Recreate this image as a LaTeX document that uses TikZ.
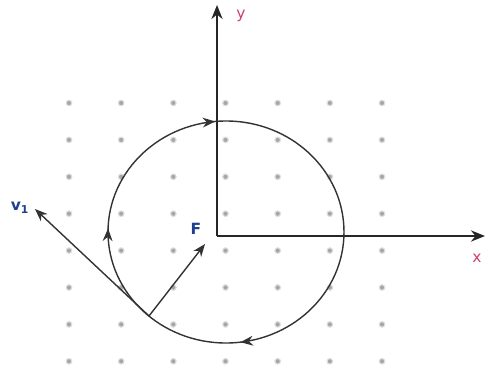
\documentclass[tikz,border=0pt]{standalone}
\usepackage{fontspec}
\setmainfont{DejaVu Sans}
\usepackage{xcolor}
\usetikzlibrary{arrows.meta, decorations.markings}

\definecolor{vecblue}{HTML}{1F3F8F}
\definecolor{axisred}{HTML}{D0406E}

\begin{document}
\begin{tikzpicture}[
  x=0.025cm, y=0.025cm,
  >={Stealth[length=9pt, width=7pt]},
  every node/.style={font=\bfseries\fontsize{11}{13}\selectfont},
  dotnode/.style={circle, fill=gray!70, draw=gray!25, line width=0.8pt, inner sep=0pt, minimum size=4pt},
  axisline/.style={-{Stealth[length=10pt, width=8pt]}, line width=1.3pt, draw=black!85},
  vecline/.style={->, line width=1pt, draw=black!80},
  orbit/.style={line width=1pt, draw=black!80, postaction={decorate},
    decoration={markings,
      mark=at position 0.23 with {\arrow{Stealth[length=9pt, width=7pt]}},
      mark=at position 0.505 with {\arrow{Stealth[length=9pt, width=7pt]}},
      mark=at position 0.735 with {\arrow{Stealth[length=9pt, width=7pt]}}}}
]
\useasboundingbox (0,0) rectangle (485,371);

% grid of field dots
\foreach \i in {0,...,6}
  \foreach \j in {0,...,7}
    \node[dotnode] (d\i\j) at ({69+52.17*\i},{268-36.9*\j}) {};

% axes
\coordinate (O) at (217,135);
\coordinate (xtip) at (485,135);
\coordinate (ytip) at (217,366);
\draw[axisline] (O) -- (xtip);
\draw[axisline] (O) -- (ytip);
\node[axisred, font=\fontsize{11}{13}\selectfont] (ylab) at (241,355) {y};
\node[axisred, font=\fontsize{11}{13}\selectfont] (xlab) at (477,113) {x};

% circular path
\coordinate (C) at (226,139);
\draw[orbit] ([shift={(C)}]0:118 and 111) arc[start angle=0, end angle=-360, x radius=118, y radius=111];

% velocity and force
\coordinate (P) at (149,55);
\coordinate (vtip) at (35,162);
\coordinate (ftip) at (205,127);
\draw[vecline] (P) -- (vtip);
\draw[vecline] (P) -- (ftip);
\node[vecblue] (vlab) at (20,163) {v\textsubscript{1}};
\node[vecblue] (flab) at (196,142) {F};
\end{tikzpicture}
\end{document}
